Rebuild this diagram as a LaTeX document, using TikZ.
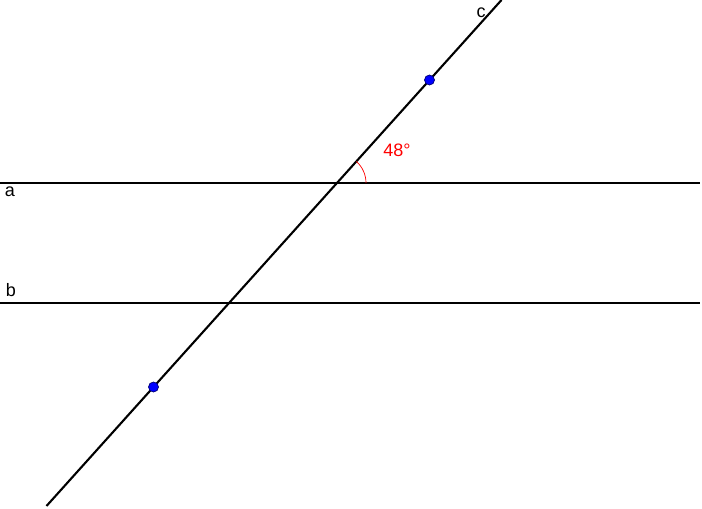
\documentclass[tikz,border=0pt]{standalone}
\usepackage{fontspec}
\setmainfont{Liberation Sans}
\begin{document}
\begin{tikzpicture}[x=1pt,y=-1pt,
  ln/.style={line width=2.1pt,black},
  pt/.style={circle,fill=blue,draw=blue!45!black,line width=0.7pt,inner sep=0pt,minimum size=10pt},
  lbl/.style={font=\fontsize{18}{20}\selectfont,inner sep=0pt}]
\useasboundingbox (0,0) rectangle (702,509);
\coordinate (a1) at (0,183);
\coordinate (a2) at (700,183);
\coordinate (b1) at (0,303);
\coordinate (b2) at (700,303);
\coordinate (c1) at (46.5,506);
\coordinate (c2) at (501.5,0);
\coordinate (O) at (337,183);
\draw[ln] (a1) -- (a2);
\draw[ln] (b1) -- (b2);
\draw[ln] (c1) -- (c2);
\draw[red,line width=0.7pt] ([xshift=29pt]O) arc[start angle=0,end angle=-48,radius=29];
\node[pt] (P) at (429.5,80) {};
\node[pt] (Q) at (153.5,387) {};
\node[lbl] (la) at (10,192) {a};
\node[lbl] (lb) at (11,290) {b};
\node[lbl] (lc) at (481,13) {c};
\node[lbl,red] (ang) at (397,150) {48°};
\end{tikzpicture}
\end{document}
